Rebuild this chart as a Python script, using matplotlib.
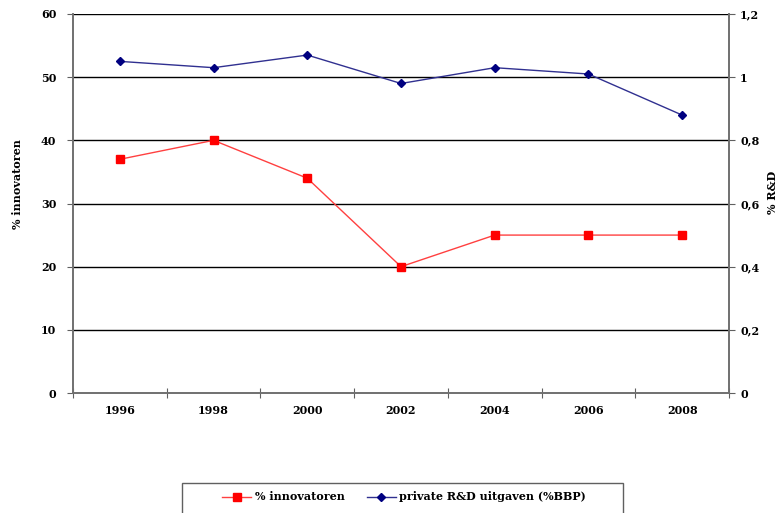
import numpy as np
import matplotlib
matplotlib.use('Agg')
import matplotlib.pyplot as plt
from matplotlib.patches import Rectangle

# data
years = ['1996', '1998', '2000', '2002', '2004', '2006', '2008']
innovatoren = [37, 40, 34, 20, 25, 25, 25]
rd_uitgaven = [1.05, 1.03, 1.07, 0.98, 1.03, 1.01, 0.88]
left_ticks = [0, 10, 20, 30, 40, 50, 60]
right_ticks = [0, 0.2, 0.4, 0.6, 0.8, 1.0, 1.2]
right_labels = ['0', '0,2', '0,4', '0,6', '0,8', '1', '1,2']

plt.rcParams['font.family'] = ['DejaVu Serif']
plt.rcParams['font.weight'] = 'bold'

fig = plt.figure(figsize=(7.8, 5.13), dpi=100)
ax = fig.add_axes([73 / 780, 120 / 513, 656 / 780, 379 / 513])
ax2 = ax.twinx()

x = np.arange(len(years))

# gridlines
for t in left_ticks[1:]:
    ax.axhline(t, color='black', lw=1, zorder=1)

ax.plot(x, innovatoren, color='#FF4040', lw=1, marker='s', ms=6,
        mfc='#FF0000', mec='#FF0000', label='% innovatoren', zorder=3)
ax2.plot(x, rd_uitgaven, color='#303090', lw=1, marker='D', ms=4,
         mfc='#000080', mec='#000080', label='private R&D uitgaven (%BBP)', zorder=3)

ax.set_xlim(-0.5, len(years) - 0.5)
ax.set_ylim(0, 60)
ax2.set_ylim(0, 1.2)

ax.set_yticks(left_ticks)
ax.set_yticklabels([str(t) for t in left_ticks], fontsize=8, fontweight='bold')
ax2.set_yticks(right_ticks)
ax2.set_yticklabels(right_labels, fontsize=8, fontweight='bold')

ax.set_xticks(np.arange(-0.5, len(years)))
ax.set_xticklabels([])
ax.set_xticks(x, minor=True)
ax.set_xticklabels(years, minor=True, fontsize=8, fontweight='bold')
ax.tick_params(axis='x', which='major', direction='inout', length=7, color='#606060')
ax.tick_params(axis='x', which='minor', length=0, pad=9)
ax.tick_params(axis='y', direction='out', length=4, color='#606060', pad=8)
ax2.tick_params(axis='y', direction='out', length=4, color='#606060', pad=4)

for a in (ax, ax2):
    a.spines['top'].set_visible(False)
    for s in ('left', 'right', 'bottom'):
        a.spines[s].set_color('#707070')
        a.spines[s].set_linewidth(1.2)

ax.set_ylabel('% innovatoren', fontsize=8, fontweight='bold')
ax.yaxis.set_label_coords(-50 / 656, 0.55)
ax2.set_ylabel('% R&D', fontsize=8, fontweight='bold')
ax2.yaxis.set_label_coords(1 + 38 / 656, 0.53)

h1, l1 = ax.get_legend_handles_labels()
h2, l2 = ax2.get_legend_handles_labels()
leg = fig.legend(h1 + h2, l1 + l2, loc='center', ncol=2,
                 bbox_to_anchor=(404 / 780, 1 - 497 / 513),
                 fontsize=8, frameon=False, handlelength=2.6,
                 handletextpad=0.3, columnspacing=2.0, borderaxespad=0)

# legend box, running off the bottom edge as in the reference
fig.patches.append(Rectangle((182 / 780, -0.02), 441 / 780, 0.02 + 30 / 513,
                             transform=fig.transFigure, fill=False,
                             edgecolor='#606060', lw=1))

fig.savefig('out.png', dpi=100)
